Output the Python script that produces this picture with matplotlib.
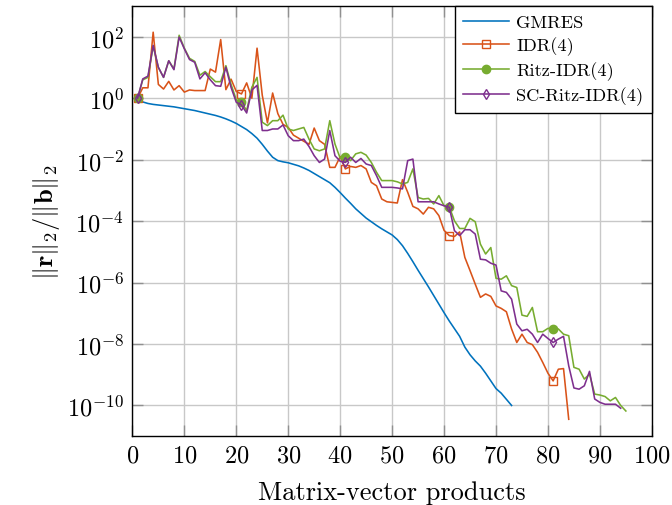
import numpy as np
import matplotlib
matplotlib.use("Agg")
import matplotlib.pyplot as plt

plt.rcParams["font.family"] = "cmr10"
plt.rcParams["mathtext.fontset"] = "cm"
plt.rcParams["axes.unicode_minus"] = False
plt.rcParams["axes.formatter.use_mathtext"] = True

# residual norms, stored as log10 values, one per matrix-vector product (x = 1, 2, ...)
gmres_log = [0, -0.12, -0.17, -0.2, -0.22, -0.24, -0.26, -0.28, -0.31, -0.34,
             -0.37, -0.4, -0.44, -0.48, -0.52, -0.56, -0.61, -0.67, -0.74, -0.82,
             -0.92, -1.02, -1.15, -1.3, -1.5, -1.72, -1.92, -2.03, -2.07, -2.1,
             -2.15, -2.2, -2.27, -2.35, -2.45, -2.55, -2.65, -2.75, -2.9, -3.07,
             -3.25, -3.42, -3.6, -3.75, -3.9, -4.02, -4.14, -4.25, -4.35, -4.45,
             -4.6, -4.8, -5.05, -5.32, -5.6, -5.87, -6.14, -6.42, -6.7, -6.98,
             -7.25, -7.5, -7.75, -8.1, -8.35, -8.55, -8.72, -8.95, -9.2, -9.45,
             -9.6, -9.8, -10.0]

idr_log = [0, 0.34, 0.34, 2.15, 0.45, 0.3, 0.55, 0.27, 0.41, 0.2,
           0.27, 0.25, 0.25, 0.25, 0.95, 0.85, 1.91, 0.28, 0.62, 0.22,
           0.14, 0.5, 0.0, 1.63, 0.1, -0.8, 0.17, -0.5, -0.85, -0.95,
           -1.2, -1.3, -1.4, -1.5, -0.97, -1.38, -1.5, -2.25, -2.25, -1.9,
           -2.3, -2.22, -2.25, -2.19, -2.3, -2.74, -2.85, -3.28, -3.37, -3.39,
           -3.41, -2.65, -3.06, -3.52, -3.6, -3.77, -3.55, -3.6, -3.82, -4.3,
           -4.47, -4.5, -4.35, -5.18, -5.61, -6.05, -6.48, -6.37, -6.45, -6.76,
           -6.84, -6.95, -7.51, -7.95, -7.68, -7.95, -8.02, -8.27, -8.6, -8.95,
           -9.2, -8.82, -8.8, -10.45]

ritz_log = [0, 0.6, 0.68, 1.7, 1.0, 0.68, 1.22, 0.95, 2.05, 1.63,
            1.3, 1.2, 0.75, 0.87, 0.7, 0.54, 0.54, 1.06, 0.45, -0.05,
            -0.13, -0.4, 0.36, 0.68, -0.78, -0.89, -0.73, -0.73, -0.55, -1.0,
            -1.05, -1.0, -0.95, -1.33, -1.65, -1.71, -1.65, -0.73, -1.49, -1.95,
            -1.9, -2.03, -1.81, -1.76, -1.85, -2.09, -2.41, -2.68, -2.68, -2.68,
            -2.72, -2.79, -2.74, -2.3, -3.23, -3.28, -3.26, -3.44, -3.17, -3.5,
            -3.53, -3.99, -4.24, -4.24, -3.91, -4.02, -4.75, -5.07, -4.86, -5.86,
            -5.89, -5.78, -6.1, -6.16, -7.06, -7.1, -6.81, -7.6, -7.6, -7.49,
            -7.51, -7.51, -7.68, -7.73, -8.76, -8.82, -9.14, -8.98, -9.63, -9.66,
            -9.71, -9.85, -9.74, -10.0, -10.18]

scritz_log = [0, 0.63, 0.72, 1.72, 1.01, 0.68, 1.22, 0.93, 1.99, 1.61,
              1.26, 1.17, 0.63, 0.83, 0.6, 0.41, 0.39, 1.01, 0.35, -0.13,
              -0.22, -0.48, 0.27, 0.42, -1.05, -1.05, -1.0, -1.0, -0.87, -1.22,
              -1.38, -1.38, -1.33, -1.57, -1.87, -2.09, -1.98, -1.05, -1.87, -2.05,
              -2.09, -1.92, -2.09, -1.96, -2.14, -2.19, -2.52, -2.9, -2.9, -2.9,
              -2.92, -2.95, -2.03, -1.98, -3.37, -3.37, -3.37, -3.37, -3.44, -3.5,
              -3.55, -4.31, -4.47, -4.28, -4.28, -4.42, -5.24, -5.26, -5.37, -5.43,
              -6.27, -6.32, -6.54, -7.35, -7.57, -7.52, -7.68, -7.95, -7.68, -7.82,
              -7.95, -7.84, -7.75, -8.71, -9.43, -9.47, -9.36, -8.89, -9.79, -9.9,
              -9.96, -9.96, -9.96, -10.09]

labels = ["GMRES", "IDR(4)", "Ritz-IDR(4)", "SC-Ritz-IDR(4)"]
colors = ["#0072BD", "#D95319", "#77AC30", "#7E2F8E"]

fig = plt.figure(figsize=(6.72, 5.06), dpi=100)
ax = fig.add_axes([0.197, 0.136, 0.773, 0.85])

series = [gmres_log, idr_log, ritz_log, scritz_log]
styles = [dict(),
          dict(marker="s", markersize=6, markerfacecolor="none", markevery=20),
          dict(marker="o", markersize=6, markevery=20),
          dict(marker="d", markersize=5, markerfacecolor="none", markevery=20)]
for vals, lab, col, st in zip(series, labels, colors, styles):
    x = np.arange(1, len(vals) + 1)
    ax.semilogy(x, 10.0 ** np.array(vals), color=col, lw=1.15, label=lab, **st)

ax.set_xlim(0, 100)
ax.set_ylim(1e-11, 1e3)
ax.set_xticks(np.arange(0, 101, 10))
ax.set_yticks([1e-10, 1e-8, 1e-6, 1e-4, 1e-2, 1e0, 1e2])
ax.yaxis.set_minor_locator(matplotlib.ticker.NullLocator())
ax.grid(True, color="#c8c8c8", lw=1.0)
ax.set_axisbelow(True)
ax.tick_params(direction="in", top=True, right=True, length=8, width=1,
               color="#909090", labelsize=17.5, pad=6)
for s in ax.spines.values():
    s.set_linewidth(1.0)

ax.set_xlabel("Matrix-vector products", fontsize=19, labelpad=10)
ax.set_ylabel(r"$\|\mathbf{r}\|_2/\|\mathbf{b}\|_2$", fontsize=19, labelpad=4)

leg = ax.legend(loc="upper right", fontsize=13.2, borderaxespad=0,
                fancybox=False, edgecolor="black", framealpha=1,
                handlelength=2.5, handletextpad=0.4, labelspacing=0.34,
                borderpad=0.45)
leg.get_frame().set_linewidth(1.0)

fig.savefig("out.png", dpi=100)
